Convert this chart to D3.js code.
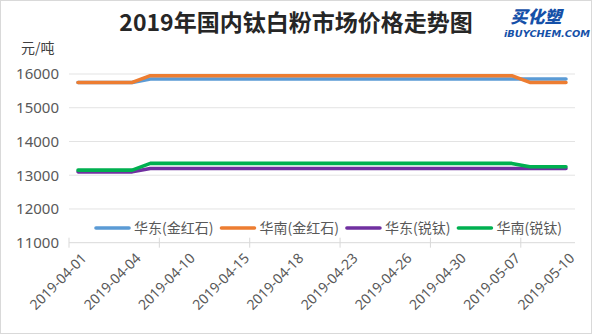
<!DOCTYPE html>
<html><head><meta charset="utf-8">
<script src="https://cdn.jsdelivr.net/npm/d3@7"></script>
<style>
html,body{margin:0;padding:0;background:#fff;}
svg{display:block;}
</style>
</head><body>
<script>
const dates = ["2019-04-01","2019-04-02","2019-04-03","2019-04-04","2019-04-08","2019-04-09","2019-04-10","2019-04-11","2019-04-12","2019-04-15","2019-04-16","2019-04-17","2019-04-18","2019-04-19","2019-04-22","2019-04-23","2019-04-24","2019-04-25","2019-04-26","2019-04-28","2019-04-29","2019-04-30","2019-05-05","2019-05-06","2019-05-07","2019-05-08","2019-05-09","2019-05-10"];
const eastRutile  = [15750,15750,15750,15750,15850,15850,15850,15850,15850,15850,15850,15850,15850,15850,15850,15850,15850,15850,15850,15850,15850,15850,15850,15850,15850,15850,15850,15850];
const southRutile = [15750,15750,15750,15750,15950,15950,15950,15950,15950,15950,15950,15950,15950,15950,15950,15950,15950,15950,15950,15950,15950,15950,15950,15950,15950,15750,15750,15750];
const eastAnatase = [13100,13100,13100,13100,13200,13200,13200,13200,13200,13200,13200,13200,13200,13200,13200,13200,13200,13200,13200,13200,13200,13200,13200,13200,13200,13200,13200,13200];
const southAnatase= [13150,13150,13150,13150,13350,13350,13350,13350,13350,13350,13350,13350,13350,13350,13350,13350,13350,13350,13350,13350,13350,13350,13350,13350,13350,13250,13250,13250];
const seriesNames = ["华东(金红石)","华南(金红石)","华东(锐钛)","华南(锐钛)"];
const seriesColors = ["#5B9BD5","#ED7D31","#7030A0","#00B050"];
const yTicks = [11000,12000,13000,14000,15000,16000];
const title = "2019年国内钛白粉市场价格走势图";
const unit = "元/吨";

const W=594,H=335;
const svg=d3.select("body").append("svg").attr("width",W).attr("height",H);
svg.append("rect").attr("x",0.5).attr("y",0.5).attr("width",W-3).attr("height",H-2)
  .attr("fill","#fff").attr("stroke","#d9d9d9");

const pLeft=69,pRight=575,pTop=74,pBottom=242.7;
const x=d3.scaleBand().domain(dates).range([pLeft,pRight]);
const y=d3.scaleLinear().domain([11000,16000]).range([pBottom,pTop]);
const cx=d=>x(d)+x.bandwidth()/2;

// gridlines
svg.append("g").selectAll("line").data(yTicks.slice(1)).join("line")
  .attr("x1",pLeft).attr("x2",pRight).attr("y1",d=>y(d)).attr("y2",d=>y(d))
  .attr("stroke","#e3e3e3").attr("stroke-width",1);

// y labels
const yAxis=d3.axisLeft(y).tickValues(yTicks).tickSize(0).tickPadding(0).tickFormat(d3.format("d"));
const ya=svg.append("g").attr("transform",`translate(${pLeft-10},0)`).call(yAxis);
ya.select(".domain").remove();
ya.selectAll("text").attr("font-family","'Noto Sans','Open Sans',sans-serif").attr("font-size",15).attr("fill","#595959");

// x axis line & ticks
svg.append("line").attr("x1",pLeft).attr("x2",pRight).attr("y1",pBottom).attr("y2",pBottom).attr("stroke","#d9d9d9");
const tickIdx=d3.range(0,dates.length+1,5);
svg.append("g").selectAll("line").data(tickIdx).join("line")
  .attr("x1",i=>pLeft+i*x.step()).attr("x2",i=>pLeft+i*x.step())
  .attr("y1",pBottom-5).attr("y2",pBottom+5).attr("stroke","#d9d9d9");

// x labels
const labelDates=dates.filter((d,i)=>i%3===0);
svg.append("g").selectAll("text").data(labelDates).join("text")
  .attr("transform",d=>`translate(${cx(d)+6},${pBottom+13}) rotate(-45)`)
  .attr("text-anchor","end").attr("dy","0.35em")
  .attr("font-family","'Noto Sans','Open Sans',sans-serif").attr("font-size",14).attr("fill","#595959")
  .text(d=>d);

// lines
const allSeries=[eastRutile,southRutile,eastAnatase,southAnatase];
const line=d3.line().x((d,i)=>cx(dates[i])).y(d=>y(d));
svg.append("g").selectAll("path").data(allSeries).join("path")
  .attr("d",line).attr("fill","none")
  .attr("stroke",(d,i)=>seriesColors[i]).attr("stroke-width",3.6)
  .attr("stroke-linejoin","round").attr("stroke-linecap","round");

// legend
const lg=svg.append("g").attr("font-family","'Noto Sans CJK SC',sans-serif").attr("font-size",14).attr("fill","#595959");
let lx=96; const ly=228;
seriesNames.forEach((n,i)=>{
  lg.append("line").attr("x1",lx).attr("x2",lx+33).attr("y1",ly).attr("y2",ly)
    .attr("stroke",seriesColors[i]).attr("stroke-width",3.6).attr("stroke-linecap","round");
  const t=lg.append("text").attr("x",lx+38).attr("y",ly).attr("dy","0.35em").attr("fill","#595959").text(n);
  const w=t.node().getComputedTextLength();
  lx=lx+38+w+8;
});

// title
svg.append("text").attr("x",296).attr("y",31).attr("text-anchor","middle")
  .attr("font-family","'Noto Sans CJK SC',sans-serif").attr("font-weight","bold").attr("font-size",23)
  .attr("fill","#262626").text(title);
svg.append("text").attr("x",21).attr("y",53)
  .attr("font-family","'Noto Sans CJK SC',sans-serif").attr("font-size",14)
  .attr("fill","#404040").text(unit);

// logo
svg.append("text").attr("x",536).attr("y",23).attr("text-anchor","middle")
  .attr("font-family","'Noto Sans CJK SC',sans-serif").attr("font-weight","900").attr("font-size",17)
  .attr("font-style","italic").attr("fill","#1550a8").text("买化塑");
svg.append("text").attr("x",547).attr("y",37).attr("text-anchor","middle")
  .attr("font-family","'DejaVu Sans',sans-serif").attr("font-weight","bold").attr("font-size",8.5)
  .attr("font-style","italic").attr("fill","#1550a8").attr("textLength",86).attr("lengthAdjust","spacingAndGlyphs")
  .text("iBUYCHEM.COM");
</script>
</body></html>
